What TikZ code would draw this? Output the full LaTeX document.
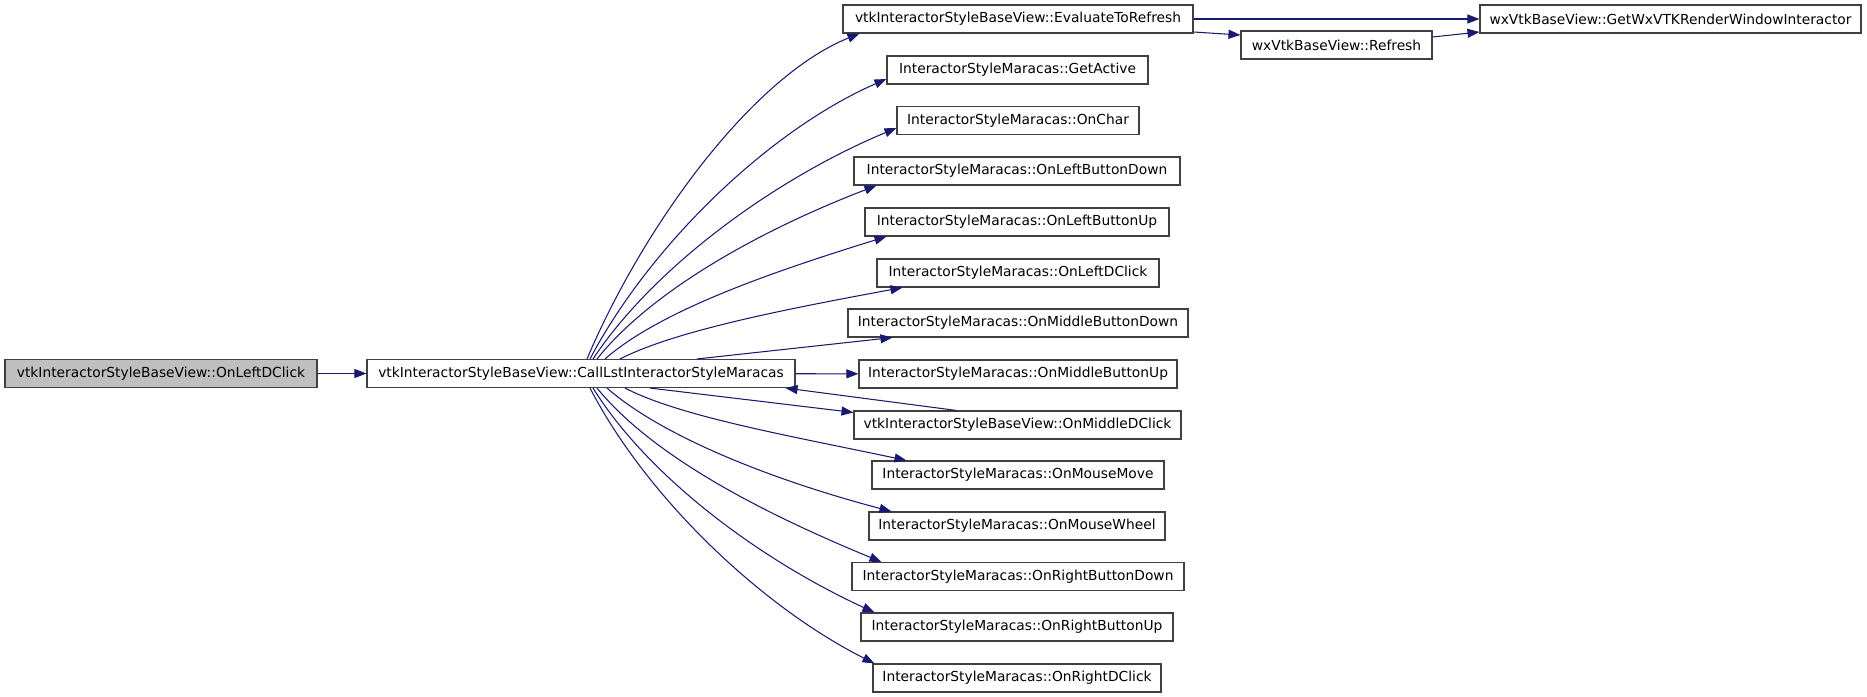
\documentclass[tikz,border=0pt]{standalone}
\usepackage{fontspec}
\setmainfont{DejaVu Sans}
\usetikzlibrary{arrows.meta}
\definecolor{navy}{HTML}{191970}
\definecolor{boxgray}{HTML}{404040}
\definecolor{fillgray}{HTML}{BFBFBF}
\begin{document}
\begin{tikzpicture}[x=1pt,y=-1pt,
  box/.style={draw=boxgray, line width=1.1pt, rectangle, minimum height=28pt, inner sep=0pt, font=\fontsize{13.8}{16}\selectfont},
  edge/.style={draw=navy, line width=1.05pt, -{Triangle[length=12pt,width=9pt]}}]
\fill[white] (0,0) rectangle (1867,696);
\useasboundingbox (0,0) rectangle (1867,696);
% nodes
\node[box, fill=fillgray, minimum width=312pt] (A) at (161,373.5) {vtkInteractorStyleBaseView::OnLeftDClick};
\node[box, minimum width=428pt] (B) at (581,373.5) {vtkInteractorStyleBaseView::CallLstInteractorStyleMaracas};
\node[box, minimum width=350pt] (Eval) at (1018,19) {vtkInteractorStyleBaseView::EvaluateToRefresh};
\node[box, minimum width=191pt] (Ref) at (1336.5,45) {wxVtkBaseView::Refresh};
\node[box, minimum width=381pt] (GWx) at (1670.5,19) {wxVtkBaseView::GetWxVTKRenderWindowInteractor};
\node[box, minimum width=261pt] (GAct) at (1017.5,70) {InteractorStyleMaracas::GetActive};
\node[box, minimum width=242pt] (OChar) at (1018,120.5) {InteractorStyleMaracas::OnChar};
\node[box, minimum width=326pt] (OLBD) at (1017,171) {InteractorStyleMaracas::OnLeftButtonDown};
\node[box, minimum width=304pt] (OLBU) at (1017,222) {InteractorStyleMaracas::OnLeftButtonUp};
\node[box, minimum width=282pt] (OLDC) at (1018,273) {InteractorStyleMaracas::OnLeftDClick};
\node[box, minimum width=340pt] (OMBD) at (1018,323) {InteractorStyleMaracas::OnMiddleButtonDown};
\node[box, minimum width=318pt] (OMBU) at (1018,374) {InteractorStyleMaracas::OnMiddleButtonUp};
\node[box, minimum width=327pt] (OMDC) at (1017.5,425) {vtkInteractorStyleBaseView::OnMiddleDClick};
\node[box, minimum width=292pt] (OMM) at (1018,475) {InteractorStyleMaracas::OnMouseMove};
\node[box, minimum width=296pt] (OMW) at (1017,526) {InteractorStyleMaracas::OnMouseWheel};
\node[box, minimum width=332pt] (ORBD) at (1018,576.5) {InteractorStyleMaracas::OnRightButtonDown};
\node[box, minimum width=312pt] (ORBU) at (1017,627) {InteractorStyleMaracas::OnRightButtonUp};
\node[box, minimum width=288pt] (ORDC) at (1017,678) {InteractorStyleMaracas::OnRightDClick};
% edges
\draw[edge] (A) -- (B);
\draw[edge] (B) -- (OMBU);
\draw[edge] (Eval.east) -- (GWx.west);
\draw[edge] ([yshift=-13pt]Eval.east) -- ([yshift=10pt]Ref.west);
\draw[edge] ([yshift=8pt]Ref.east) -- ([yshift=-13pt]GWx.west);
% upper fan
\draw[edge] ([xshift=6pt]B.north) .. controls +(55,-130) and +(-109,44) .. ([xshift=17pt]Eval.south west);
\draw[edge] ([xshift=9pt]B.north) .. controls +(59,-112) and +(-119,52) .. ([yshift=-9pt]GAct.west);
\draw[edge] ([xshift=12pt]B.north) .. controls +(61,-92) and +(-122,51) .. ([yshift=-7.5pt]OChar.west);
\draw[edge] ([xshift=16pt]B.north) .. controls +(56,-70) and +(-112,43) .. ([xshift=23pt]OLBD.south west);
\draw[edge] ([xshift=24pt]B.north) .. controls +(56,-49) and +(-113,35) .. ([xshift=22pt]OLBU.south west);
\draw[edge] ([xshift=39pt]B.north) .. controls +(57,-29) and +(-113,21) .. ([xshift=26pt]OLDC.south west);
\draw[edge] ([xshift=116pt]B.north) -- ([xshift=45pt]OMBD.south west);
% lower fan
\draw[edge] ([xshift=69pt]B.south) -- ([yshift=-2pt]OMDC.north west);
\draw[edge] ([xshift=103pt]OMDC.north west) -- ([xshift=-10pt]B.south east);
\draw[edge] ([xshift=44pt]B.south) .. controls +(56,29) and +(-113,-24) .. ([xshift=35pt]OMM.north west);
\draw[edge] ([xshift=26pt]B.south) .. controls +(57,50) and +(-114,-30) .. ([xshift=23pt]OMW.north west);
\draw[edge] ([xshift=16pt]B.south) .. controls +(57,70) and +(-114,-47) .. ([xshift=30pt]ORBD.north west);
\draw[edge] ([xshift=12pt]B.south) .. controls +(56,90) and +(-113,-52) .. ([xshift=14pt]ORBU.north west);
\draw[edge] ([xshift=9pt]B.south) .. controls +(57,110) and +(-113,-57) .. ([xshift=2pt]ORDC.north west);
\end{tikzpicture}
\end{document}
